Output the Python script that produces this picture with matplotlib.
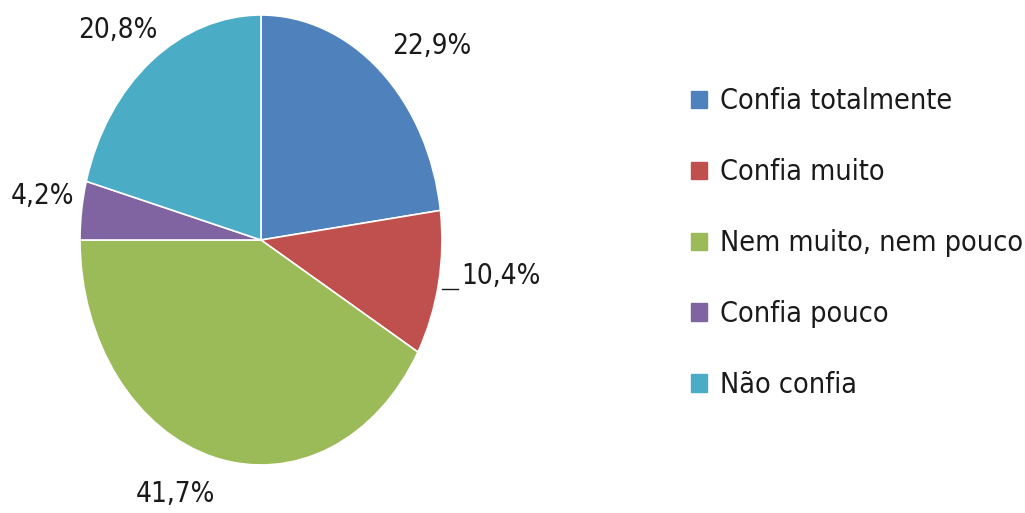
import matplotlib
matplotlib.use("Agg")
import matplotlib.pyplot as plt
from matplotlib.patches import Patch
from matplotlib.font_manager import FontProperties
import numpy as np

categories = ["Confia totalmente", "Confia muito", "Nem muito, nem pouco",
              "Confia pouco", "Não confia"]
values = [22.9, 10.4, 41.7, 4.2, 20.8]
value_labels = ["22,9%", "10,4%", "41,7%", "4,2%", "20,8%"]
colors = ["#4F81BD", "#C0504D", "#9BBB59", "#8064A2", "#4BACC6"]

plt.rcParams["font.family"] = ["DejaVu Sans"]
fp = FontProperties(family="DejaVu Sans", stretch="condensed", size=20)
fp_leg = FontProperties(family="DejaVu Sans", stretch="condensed", size=20.6)

fig = plt.figure(figsize=(10.25, 5.13), dpi=100)
# pie is drawn in an axes with non-equal aspect, giving a tall ellipse
ax = fig.add_axes([80 / 1025, 48 / 513, 362 / 1025, 450 / 513])
wedges, _ = ax.pie(values, colors=colors, startangle=90, counterclock=False,
                   radius=1.0, wedgeprops=dict(edgecolor="white", linewidth=1.2))
ax.set_aspect("auto")
ax.set_xlim(-1, 1)
ax.set_ylim(-1, 1)
ax.axis("off")

# label placement per wedge: (radial factor, dx, dy) in data units
label_layout = [(1.25, 0.12, -0.08), (1.25, 0.10, 0.08), (1.25, -0.15, 0.08),
                (1.25, 0.03, 0.03), (1.25, -0.03, -0.06)]
for w, txt, (rf, dx, dy) in zip(wedges, value_labels, label_layout):
    mid = np.deg2rad((w.theta1 + w.theta2) / 2)
    x = rf * np.cos(mid) + dx
    y = rf * np.sin(mid) + dy
    ax.text(x, y, txt, ha="center", va="center", fontproperties=fp,
            color="#1a1a1a", clip_on=False)

# short leader line for the small red slice
red = wedges[1]
mid = np.deg2rad((red.theta1 + red.theta2) / 2)
y0 = 1.25 * np.sin(mid) + 0.08 - 0.055
ax.plot([1.0, 1.09], [y0, y0], color="#1a1a1a", lw=1.0, clip_on=False)

handles = [Patch(facecolor=c, edgecolor=c) for c in colors]
fig.legend(handles, categories, loc="upper left",
           bbox_to_anchor=(680 / 1025, 1 - 76 / 513), frameon=False,
           prop=fp_leg, handlelength=0.55, handleheight=0.55, handletextpad=0.45,
           labelspacing=1.5, borderaxespad=0, labelcolor="#1a1a1a")

fig.savefig("out.png", dpi=100, facecolor="white")
